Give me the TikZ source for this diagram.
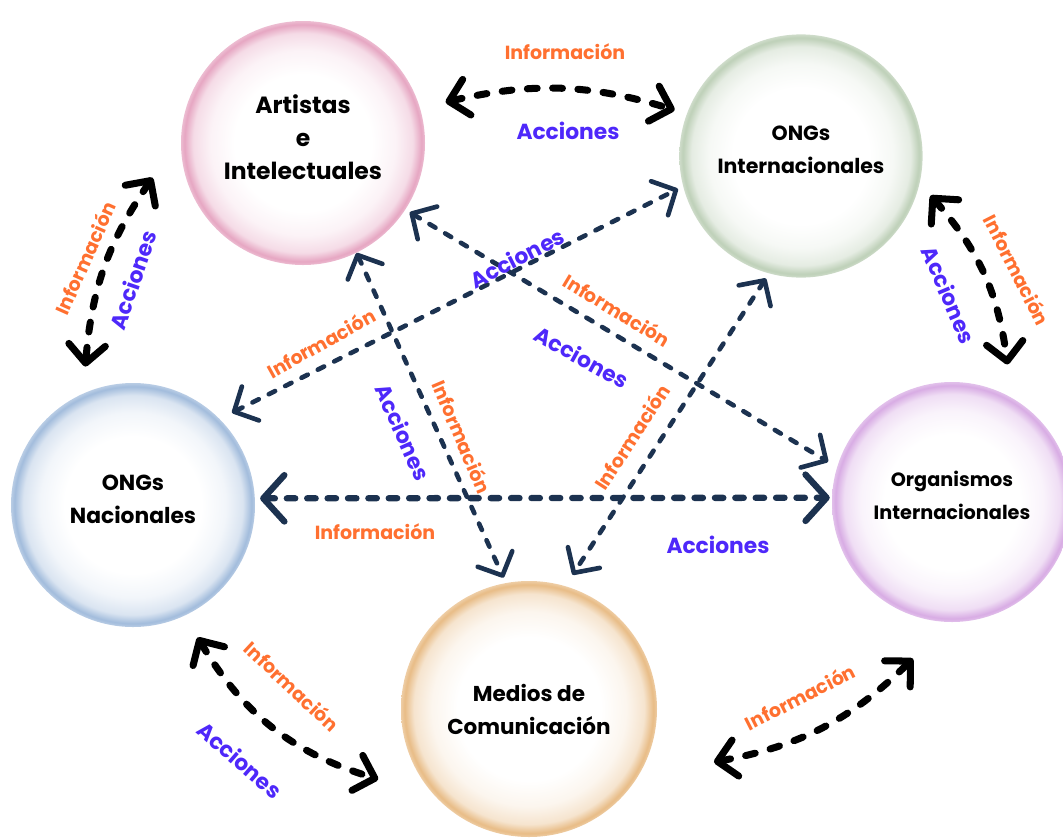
\documentclass[tikz,border=0pt]{standalone}
\usepackage{fontspec}
\setmainfont{Poppins}
\usetikzlibrary{arrows.meta,calc}

\definecolor{infoorange}{RGB}{255,112,48}
\definecolor{accblue}{RGB}{78,40,250}
\definecolor{navy}{RGB}{28,50,80}
\definecolor{rimpink}{RGB}{230,166,194}
\definecolor{rimgreen}{RGB}{190,208,184}
\definecolor{rimblue}{RGB}{162,188,220}
\definecolor{rimlilac}{RGB}{216,172,228}
\definecolor{rimtan}{RGB}{232,188,134}

% white bubble with a coloured rim (the path edge sits at 25bp)
\newcommand\declbubble[2]{%
  \pgfdeclareradialshading{#1}{\pgfpoint{0bp}{0bp}}{%
    color(0bp)=(white); color(14bp)=(white);
    color(19bp)=(#2!14!white); color(22.5bp)=(#2!40!white);
    color(24.3bp)=(#2); color(25bp)=(#2!75!white); color(50bp)=(white)}}
\declbubble{bubblepink}{rimpink}
\declbubble{bubblegreen}{rimgreen}
\declbubble{bubbleblue}{rimblue}
\declbubble{bubblelilac}{rimlilac}
\declbubble{bubbletan}{rimtan}

\begin{document}
\begin{tikzpicture}[scale=0.25,
  bubble/.style={circle, inner sep=0pt, align=center, text=black, shading=#1},
  actor/.style={font=\bfseries\fontsize{#1}{23.5}\selectfont},
  lift/.style={text depth=#1},
  info/.style={text=infoorange, font=\bfseries\fontsize{13.5}{15}\selectfont},
  acc/.style={text=accblue, font=\bfseries\fontsize{15.5}{17}\selectfont},
  blk/.style={black, line width=5pt, line cap=round, dash pattern=on 7pt off 11pt,
    >={Straight Barb[round,length=13pt,width=26pt]}, <->},
  nvy/.style={navy, line width=3.3pt, line cap=round, dash pattern=on 5pt off 8pt,
    >={Straight Barb[round,length=13pt,width=27pt]}, <->},
  nvyh/.style={navy, line width=4.5pt, line cap=round, dash pattern=on 6pt off 8.5pt,
    >={Straight Barb[round,length=15pt,width=33pt]}, <->}]
\useasboundingbox (0,0) rectangle (106.3,-83.9);

% the five actors
\node [bubble=bubblepink, actor=16.7, lift=8.5pt, minimum size=6.1cm] (art) at (30.3,-14.3) {Artistas\\e\\Intelectuales};
\node [bubble=bubblegreen, actor=14.6, lift=8.5pt, minimum size=6.08cm] (ongi) at (80.1,-15.6) {ONGs\\Internacionales};
\node [bubble=bubbleblue, actor=15.5, lift=8.5pt, minimum size=6.1cm] (ongn) at (13.3,-50.5) {ONGs\\Nacionales};
\node [bubble=bubblelilac, actor=13.7, lift=9.5pt, minimum size=6.0cm] (org) at (95.2,-50.2) {Organismos\\Internacionales};
\node [bubble=bubbletan, actor=15.3, minimum size=6.4cm] (med) at (52.9,-70.9) {Medios de\\Comunicación};

% black curved links
\draw [blk] ($(art)!1.213!(art.16)$) to [bend left=15] ($(ongi)!1.103!(ongi.160)$);
\draw [blk] ($(art)!1.262!(art.-167)$) to [bend right=15] ($(ongn)!1.197!(ongn.109)$);
\draw [blk] ($(ongi)!1.111!(ongi.-17)$) to [bend left=17] ($(org)!1.233!(org.68)$);
\draw [blk] ($(ongn)!1.205!(ongn.-64)$) to [bend right=21] ($(med)!1.297!(med.-155)$);
\draw [blk] ($(med)!1.5!(med.-16)$) to [bend right=17] ($(org)!1.342!(org.-104)$);

% navy straight links
\draw [nvyh] ($(ongn)!1.041!(ongn.3)$) -- ($(org)!1.017!(org.178)$);
\draw [nvy] ($(ongn)!1.107!(ongn.43.5)$) -- ($(ongi)!1.045!(ongi.-165.4)$);
\draw [nvy] ($(art)!1.041!(art.-33)$) -- ($(org)!1.083!(org.162)$);
\draw [nvy] ($(art)!1.0!(art.-64)$) -- ($(med)!1.043!(med.101)$);
\draw [nvy] ($(ongi)!1.045!(ongi.-106)$) -- ($(med)!1.1!(med.72)$);

% labels
\node [info] (infAI) at (56.5,-5.2) {Información};
\node [acc] (accAI) at (56.8,-13.1) {Acciones};
\node [info, rotate=66] (infAN) at (8.5,-25.8) {Información};
\node [acc, rotate=71] (accAN) at (13.3,-28.0) {Acciones};
\node [info, rotate=-63] (infIO) at (101.7,-27.0) {Información};
\node [acc, rotate=-67] (accIO) at (94.9,-29.5) {Acciones};
\node [info, rotate=-43] (infNM) at (29.2,-68.6) {Información};
\node [acc, rotate=-41] (accNM) at (24.0,-76.0) {Acciones};
\node [info, rotate=27] (infMO) at (80.0,-69.7) {Información};
\node [info] (infNO) at (37.5,-53.2) {Información};
\node [acc] (accNO) at (71.8,-54.5) {Acciones};
\node [info, rotate=29] (infNI) at (32.1,-34.3) {Información};
\node [acc, rotate=27] (accNI) at (51.7,-25.8) {Acciones};
\node [info, rotate=-31] (infAO) at (61.7,-31.0) {Información};
\node [acc, rotate=-29] (accAO) at (58.2,-35.7) {Acciones};
\node [acc, rotate=-66] (accAM) at (40.3,-43.2) {Acciones};
\node [info, rotate=-67] (infAM) at (46.2,-43.7) {Información};
\node [info, rotate=57] (infIM) at (63.2,-43.7) {Información};
\end{tikzpicture}
\end{document}
